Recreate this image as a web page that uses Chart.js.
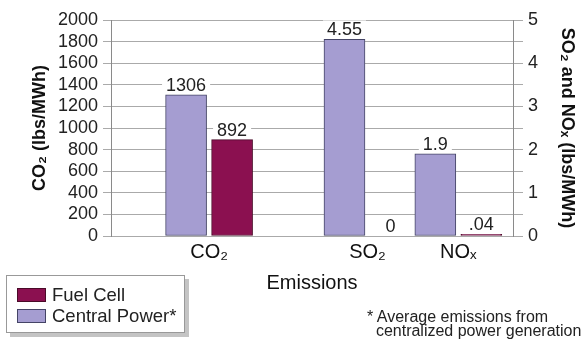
<!DOCTYPE html>
<html lang="en">
<head>
<meta charset="UTF-8">
<script src="https://cdn.jsdelivr.net/npm/chart.js"></script>
<title>Emissions</title>
<style>
  body { margin: 0; background: #fff; font-family: "Liberation Sans", Arial, sans-serif; color: #222; }
  .wrap { position: relative; width: 582px; height: 341px; }
  .legenda {
    position: absolute; left: 6px; top: 275px; width: 177px; height: 56px;
    border: 1px solid #999; background: #fff; box-shadow: 4px 4px 0 #c4c4c4;
  }
  .item { position: absolute; left: 10px; font-size: 18.5px; line-height: 20px; white-space: nowrap; }
  .item span { display: inline-block; width: 27px; height: 12px; margin-right: 6px; vertical-align: -1px; }
  .nota { position: absolute; left: 367px; top: 310px; font-size: 16px; line-height: 14px; white-space: nowrap; }
</style>
</head>
<body>
<div class="wrap">
  <canvas id="grafico"></canvas>
  <div class="legenda">
    <div class="item" style="top:9px"><span style="background:#8b1050;border:1px solid #4a0a28"></span>Fuel Cell</div>
    <div class="item" style="top:30px"><span style="background:#a59dd1;border:1px solid #444466"></span>Central Power*</div>
  </div>
  <div class="nota">* Average emissions from<br>&nbsp;&nbsp;centralized power generation</div>
</div>

<script>
// dados
const categorias = ['CO₂', 'SO₂', 'NOₓ'];
const centralPower = [1306, 4.55, 1.9];
const fuelCell = [892, 0, 0.04];
// CO2 no eixo da esquerda, SO2 e NOx no da direita
const ticksEsquerda = [0, 200, 400, 600, 800, 1000, 1200, 1400, 1600, 1800, 2000];
const ticksDireita = [0, 1, 2, 3, 4, 5];

// posicao de cada categoria no eixo x (0..100)
const posCategoria = [24.4, 63.8, 86.4];

const fonte = '"Liberation Sans", Arial, sans-serif';
const corCentral = '#a59dd1';
const corFuel = '#8b1050';

function pontos(valores, idx) {
    return idx.map(i => ({ x: posCategoria[i], y: valores[i] }));
}

function formatar(v) {
    return (v > 0 && v < 1) ? String(v).slice(1) : String(v);
}

const rotulos = {
    id: 'rotulos',
    afterDatasetsDraw(chart) {
        const ctx = chart.ctx;
        ctx.save();
        ctx.font = '18px ' + fonte;
        ctx.textAlign = 'center';
        ctx.textBaseline = 'alphabetic';
        chart.data.datasets.forEach((ds, i) => {
            chart.getDatasetMeta(i).data.forEach((barra, j) => {
                const txt = formatar(ds.data[j].y);
                const w = ctx.measureText(txt).width;
                const base = barra.y - 4;
                ctx.fillStyle = '#fff';
                ctx.fillRect(barra.x - w / 2 - 4, base - 15, w + 8, 17);
                ctx.fillStyle = '#222';
                ctx.fillText(txt, barra.x, base);
            });
        });
        ctx.restore();
    }
};

const estiloCentral = { backgroundColor: corCentral, borderColor: '#444466', borderWidth: 1, borderSkipped: false, stack: 'central' };
const estiloFuel = { backgroundColor: corFuel, borderColor: '#4a0a28', borderWidth: 1, borderSkipped: false, stack: 'fuel' };

const config = {
    type: 'bar',
    data: {
        datasets: [
            { label: 'Central Power*', data: pontos(centralPower, [0]), yAxisID: 'y', ...estiloCentral },
            { label: 'Fuel Cell', data: pontos(fuelCell, [0]), yAxisID: 'y', ...estiloFuel },
            { label: 'Central Power*', data: pontos(centralPower, [1, 2]), yAxisID: 'y2', ...estiloCentral },
            { label: 'Fuel Cell', data: pontos(fuelCell, [1, 2]), yAxisID: 'y2', ...estiloFuel }
        ]
    },
    options: {
        responsive: false,
        animation: false,
        barThickness: 46,
        maxBarThickness: 41,
        layout: { padding: { top: 20 } },
        plugins: { legend: { display: false }, tooltip: { enabled: false } },
        scales: {
            x: {
                type: 'linear',
                offset: false,
                min: 0,
                max: 100,
                afterBuildTicks: (s) => { s.ticks = posCategoria.map(v => ({ value: v })); },
                afterFit: (s) => { s.height = 105; },
                grid: { display: false, drawTicks: false },
                border: { display: false },
                ticks: {
                    autoSkip: false, maxRotation: 0, padding: 4,
                    font: { family: fonte, size: 20 }, color: '#111',
                    callback: (v, i) => categorias[i]
                },
                title: {
                    display: true, text: 'Emissions', color: '#111',
                    font: { family: fonte, size: 20 },
                    padding: { top: 0, bottom: 46 }
                }
            },
            y: {
                position: 'left',
                stacked: false,
                min: 0,
                max: 2000,
                afterBuildTicks: (s) => { s.ticks = ticksEsquerda.map(v => ({ value: v })); },
                afterFit: (s) => { s.width = 111; },
                grid: { color: '#aaaaaa', tickLength: 8 },
                border: { color: '#8a8a8a' },
                ticks: {
                    autoSkip: false, padding: 5, font: { family: fonte, size: 18 }, color: '#222',
                    callback: (v) => String(v)
                },
                title: {
                    display: true, text: 'CO₂ (lbs/MWh)', color: '#111',
                    font: { family: fonte, size: 18, weight: 'bold' },
                    padding: { top: 29, bottom: 0 }
                }
            },
            y2: {
                position: 'right',
                stacked: false,
                min: 0,
                max: 5,
                afterBuildTicks: (s) => {
                    const t = [];
                    for (let i = 0; i < ticksDireita.length; i++) {
                        t.push({ value: ticksDireita[i] });
                        if (i < ticksDireita.length - 1) t.push({ value: ticksDireita[i] + 0.5 });
                    }
                    s.ticks = t;
                },
                afterFit: (s) => { s.width = 69; },
                grid: { drawOnChartArea: false, color: '#aaaaaa', tickLength: 10 },
                border: { color: '#8a8a8a' },
                ticks: {
                    autoSkip: false, padding: 5, font: { family: fonte, size: 18 }, color: '#222',
                    callback: (v) => ticksDireita.includes(v) ? String(v) : ''
                },
                title: {
                    display: true, text: 'SO₂ and NOₓ (lbs/MWh)', color: '#111',
                    font: { family: fonte, size: 18, weight: 'bold' },
                    padding: { top: 4, bottom: 0 }
                }
            }
        }
    },
    plugins: [rotulos]
};

const canvas = document.getElementById('grafico');
canvas.width = 582;
canvas.height = 341;
new Chart(canvas, config);
</script>
</body>
</html>
